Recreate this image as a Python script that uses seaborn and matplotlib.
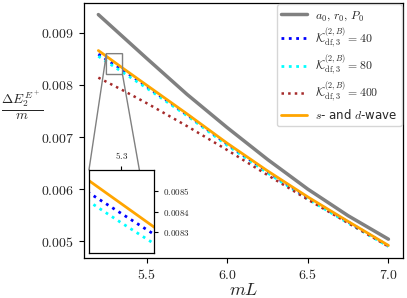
import numpy as np
import pandas as pd
import matplotlib
matplotlib.use("Agg")
import matplotlib.pyplot as plt
import seaborn as sns

# values
mL = [5.2, 5.25, 5.3, 5.35, 5.5, 5.75, 6.0, 6.25, 6.5, 6.75, 7.0]
e_a0r0P0 = [0.00935, 0.00921, 0.00907, 0.00893, 0.00851, 0.00782, 0.00718,
            0.00657, 0.00600, 0.00549, 0.00504]
e_k40 = [0.00859, 0.00849, 0.00839, 0.00829, 0.00797, 0.00743, 0.00686,
         0.00633, 0.00583, 0.00537, 0.00491]
e_k80 = [0.00855, 0.008448, 0.008345, 0.008245, 0.00794, 0.00741, 0.00684,
         0.00631, 0.00581, 0.00535, 0.00490]
e_k400 = [0.00814, 0.00806, 0.00798, 0.00790, 0.00765, 0.00721, 0.00675,
          0.00627, 0.00580, 0.00535, 0.00490]
e_sd = [0.00866, 0.008549, 0.008437, 0.008325, 0.007995, 0.007445, 0.00688,
        0.00635, 0.00585, 0.00538, 0.00492]

labels = [r"$a_0,\, r_0,\, P_0$",
          r"$\mathcal{K}_{\mathrm{df},3}^{(2,B)}=40$",
          r"$\mathcal{K}_{\mathrm{df},3}^{(2,B)}=80$",
          r"$\mathcal{K}_{\mathrm{df},3}^{(2,B)}=400$",
          r"$s$- and $d$-wave"]

sns.set_style("ticks")
plt.rcParams["mathtext.fontset"] = "cm"
plt.rcParams["axes.formatter.use_mathtext"] = True
plt.rcParams["font.family"] = ["DejaVu Sans"]

series = [
    (e_a0r0P0, "gray", "-", 2.5),
    (e_k40, "blue", ":", 2.0),
    (e_k80, "cyan", ":", 2.0),
    (e_k400, "brown", ":", 1.8),
    (e_sd, "orange", "-", 2.0),
]

fig = plt.figure(figsize=(4.07, 2.98), dpi=100)
ax = fig.add_axes([0.206, 0.134, 0.784, 0.856])

for (vals, col, ls, lw), lab in zip(series, labels):
    sns.lineplot(x=mL, y=vals, ax=ax, color=col, linestyle=ls, linewidth=lw, label=lab)

ax.set_xticks([5.5, 6.0, 6.5, 7.0])
ax.set_yticks([0.005, 0.006, 0.007, 0.008, 0.009])
ax.xaxis.set_major_formatter(matplotlib.ticker.FuncFormatter(lambda v, p: r"$%.1f$" % v))
ax.yaxis.set_major_formatter(matplotlib.ticker.FuncFormatter(lambda v, p: r"$%.3f$" % v))
ax.tick_params(labelsize=10, length=3.5, color="black")
for s in ax.spines.values():
    s.set_color("black")
    s.set_linewidth(0.9)
ax.set_xlabel(r"$mL$", fontsize=13, va="center")
ax.xaxis.set_label_coords(0.5, -0.125)
ax.set_ylabel(r"$\frac{\Delta E_2^{E^+}}{m}$", fontsize=14, rotation=0,
              ha="center", va="center")
ax.yaxis.set_label_coords(-0.195, 0.6)

leg = ax.legend(loc="upper right", fontsize=8.5, frameon=True, handlelength=2.2,
                borderpad=0.35, labelspacing=0.3, borderaxespad=0.12,
                handletextpad=0.7)

axins = ax.inset_axes([0.016, 0.02, 0.204, 0.325])
for vals, col, ls, lw in series:
    sns.lineplot(x=mL, y=vals, ax=axins, color=col, linestyle=ls, linewidth=lw)
axins.set_xlim(5.25, 5.35)
axins.set_ylim(0.0082, 0.0086)
axins.set_xticks([5.3])
axins.set_yticks([0.0083, 0.0084, 0.0085])
axins.xaxis.set_major_formatter(matplotlib.ticker.FuncFormatter(lambda v, p: r"$%.1f$" % v))
axins.yaxis.set_major_formatter(matplotlib.ticker.FuncFormatter(lambda v, p: r"$%.4f$" % v))
axins.xaxis.tick_top()
axins.yaxis.tick_right()
axins.tick_params(labelsize=6.5, length=3, color="black")
for s in axins.spines.values():
    s.set_color("black")
    s.set_linewidth(0.9)
ax.indicate_inset_zoom(axins, edgecolor="gray", alpha=1.0, linewidth=1.0)

fig.savefig("out.png", dpi=100)
